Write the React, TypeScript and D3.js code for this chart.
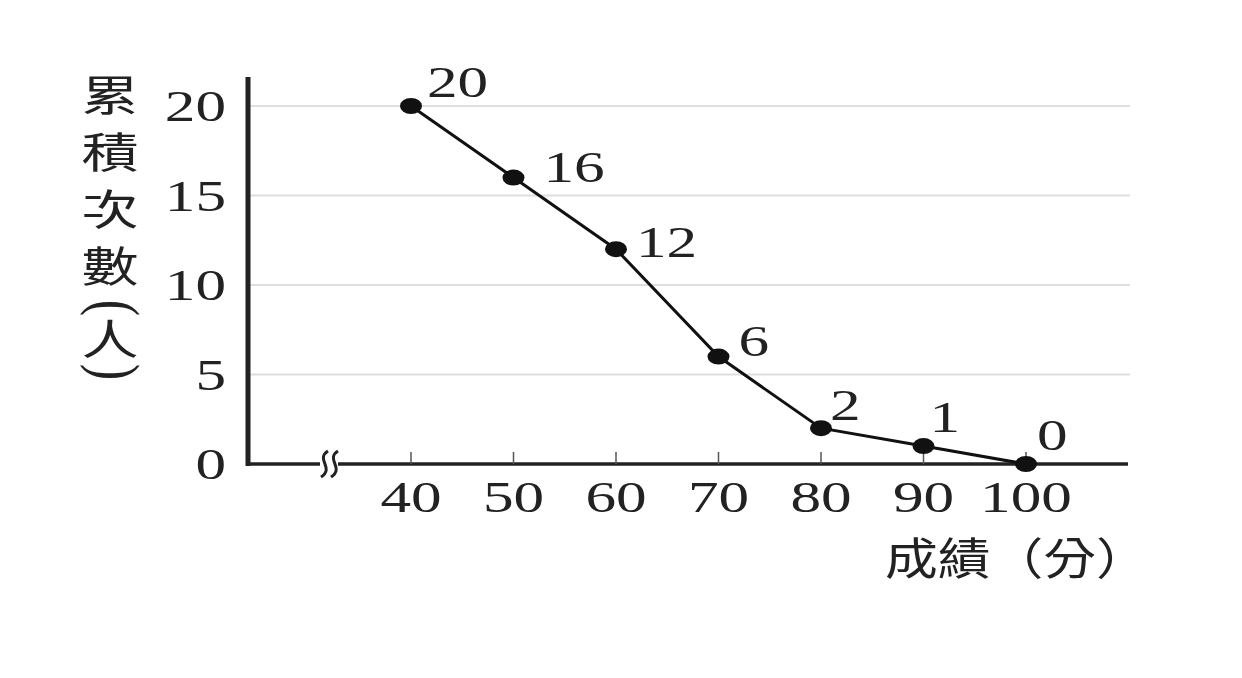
import React, { useEffect, useRef } from 'react';
import * as d3 from 'd3';

const scores = [40, 50, 60, 70, 80, 90, 100];
const counts = [20, 16, 12, 6, 2, 1, 0];
const yTicks = [0, 5, 10, 15, 20];
const yTitle = ['累', '積', '次', '數', '(', '人', ')'];
const xTitle = '成績（分）';

// label placement relative to each dot
const labelDx = [16, 30, 20, 20, 9, 6, 11];
const labelDy = [-9, 4, 8, -1, -8, -14, -14];

// vertical gaps between the y title glyph centres
const titleSteps = [0, 57, 57, 57, 41, 32, 32];

// the original picture is stretched sideways
const SX = 1.36;

export default function App() {
  const svgRef = useRef<SVGSVGElement>(null);

  useEffect(() => {
    if (!svgRef.current) return;
    const svg = d3.select(svgRef.current);
    svg.selectAll('*').remove();

    const serif = '"Liberation Serif", "DejaVu Serif", serif';
    const cjk = '"Noto Sans CJK TC", "Noto Sans CJK SC", sans-serif';
    const ink = '#222';

    const x = d3.scaleLinear().domain([40, 100]).range([411, 1026]);
    const y = d3.scaleLinear().domain([0, 20]).range([464, 106]);
    const axisX0 = 248;
    const axisX1 = 1128;

    const stretched = (tx: number, ty: number, txt: string, font: string, size: number,
                       anchor = 'start', sx = SX, rot = 0) => {
      const g = svg.append('g').attr('transform', `translate(${tx},${ty}) scale(${sx},1) rotate(${rot})`);
      g.append('text')
        .attr('text-anchor', anchor)
        .style('font-family', font).style('font-size', `${size}px`)
        .attr('fill', ink)
        .text(txt);
    };

    svg.append('rect').attr('width', 1242).attr('height', 678).attr('fill', '#fff');

    // gridlines
    svg.selectAll('line.grid')
      .data(yTicks.filter(d => d > 0))
      .enter().append('line')
      .attr('x1', axisX0).attr('x2', 1130)
      .attr('y1', d => y(d)).attr('y2', d => y(d))
      .attr('stroke', '#dedede').attr('stroke-width', 2);

    // axes
    svg.append('line')
      .attr('x1', axisX0).attr('x2', axisX0)
      .attr('y1', 77).attr('y2', y(0) + 2)
      .attr('stroke', ink).attr('stroke-width', 5);
    svg.append('line')
      .attr('x1', axisX0 - 2).attr('x2', axisX1)
      .attr('y1', y(0)).attr('y2', y(0))
      .attr('stroke', ink).attr('stroke-width', 3.5);

    // x ticks
    svg.selectAll('line.xt')
      .data(scores)
      .enter().append('line')
      .attr('x1', d => x(d)).attr('x2', d => x(d))
      .attr('y1', y(0)).attr('y2', y(0) - 12)
      .attr('stroke', '#555').attr('stroke-width', 1.5);

    // axis break
    const bx = 329;
    const by = y(0);
    const brk = d3.path();
    [-5, 5].forEach(o => {
      brk.moveTo(bx + o + 4, by - 13);
      brk.bezierCurveTo(bx + o - 9, by - 5, bx + o + 11, by + 4, bx + o - 3, by + 13);
    });
    svg.append('rect').attr('x', bx - 9).attr('y', by - 3).attr('width', 18).attr('height', 6).attr('fill', '#fff');
    svg.append('path').attr('d', brk.toString())
      .attr('fill', 'none').attr('stroke', ink).attr('stroke-width', 3);

    // y tick labels
    yTicks.forEach(d => stretched(226, y(d) + 15, String(d), serif, 45, 'end'));

    // x tick labels
    scores.forEach(d => stretched(x(d), 512, String(d), serif, 45, 'middle'));

    // y title, vertical
    let cy = 96;
    yTitle.forEach((ch, i) => {
      cy += titleSteps[i];
      if (ch === '(' || ch === ')') {
        stretched(94, cy, ch, serif, 48, 'middle', SX, 90);
      } else {
        stretched(110, cy + 15, ch, cjk, 42, 'middle', SX);
      }
    });

    // x title
    stretched(885, 575, xTitle, cjk, 44, 'start', 1.2);

    // line + dots
    const pts = scores.map((s, i) => [x(s), y(counts[i])] as [number, number]);
    svg.append('path')
      .attr('d', d3.line()(pts) || '')
      .attr('fill', 'none').attr('stroke', '#111').attr('stroke-width', 3);

    svg.selectAll('ellipse.dot')
      .data(pts)
      .enter().append('ellipse')
      .attr('cx', d => d[0]).attr('cy', d => d[1]).attr('rx', 11).attr('ry', 8)
      .attr('fill', '#111');

    counts.forEach((c, i) =>
      stretched(pts[i][0] + labelDx[i], pts[i][1] + labelDy[i], String(c), serif, 45));
  }, []);

  return (
    <div style={{ margin: -8 }}>
      <svg ref={svgRef} width={1242} height={678} style={{ display: 'block' }} />
    </div>
  );
}
